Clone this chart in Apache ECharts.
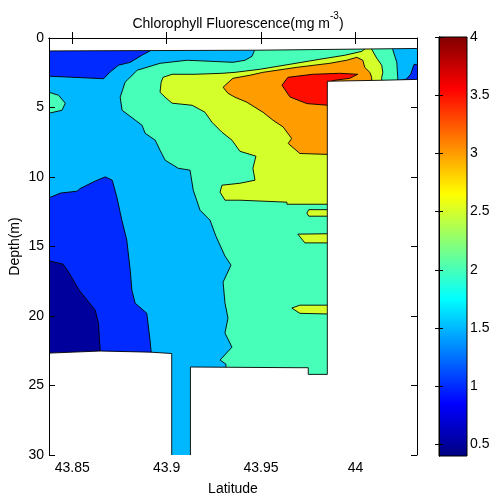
<!DOCTYPE html>
<html>
<head>
<meta charset="utf-8">
<script src="https://cdn.jsdelivr.net/npm/echarts@6/dist/echarts.min.js"></script>
<style>
  html, body { margin: 0; padding: 0; background: #fff; }
  #main { width: 489px; height: 496px; }
</style>
</head>
<body>
<div id="main"></div>
<script>
// axes
const latRange = [43.8377, 44.0326];
const latTicks = [43.85, 43.9, 43.95, 44];
const depthRange = [0, 30];
const colorRange = [0.4, 4];
const colorTicks = [0.5, 1, 1.5, 2, 2.5, 3, 3.5, 4];

// contour regions, [latitude, depth] outlines of the area where value >= level
const section = [[43.835, -0.5], [44.035, -0.5], [44.035, 30.5], [43.835, 30.5]];
const above1 = [
  [43.835, -0.5], [44.035, -0.5], [44.035, 30.5], [43.8648, 30.5], [43.8648, 22.45],
  [43.8639, 20.53], [43.8622, 19.58], [43.8537, 18.14], [43.848, 16.82], [43.8452, 16.27],
  [43.8377, 16.03], [43.835, 16.03]
];
const above15 = [
  [43.8912, -0.5], [43.8912, 0.93], [43.8869, 1.24], [43.8807, 1.75], [43.8745, 1.96],
  [43.8701, 2.44], [43.8666, 2.93], [43.8463, 2.8], [43.8377, 2.75], [43.835, 2.75],
  [43.835, 11.5], [43.8377, 11.5], [43.8437, 11.16], [43.8525, 11.02], [43.8542, 10.83],
  [43.8613, 10.35], [43.8675, 9.99], [43.8712, 10.23], [43.8736, 11.43], [43.8763, 13.11],
  [43.8789, 14.54], [43.8807, 16.7], [43.8816, 18.14], [43.8833, 19.07], [43.8895, 19.81],
  [43.8912, 21.73], [43.8918, 22.6], [43.8918, 30.5], [44.035, 30.5], [44.035, 3.47],
  [44.0224, 3.47], [44.0224, 3.1], [44.027, 2.95], [44.0293, 2.6], [44.031, 1.9],
  [44.035, 1.9], [44.035, -0.5]
];
const above2 = [
  [43.9468, -0.5], [43.9468, 0.81], [43.9452, 1.32], [43.9415, 1.6], [43.9351, 1.75],
  [43.924, 1.68], [43.9108, 1.6], [43.8965, 1.82], [43.8844, 2.32], [43.878, 3.18],
  [43.8754, 4.26], [43.8764, 5.2], [43.887, 6.28], [43.8886, 6.85], [43.8939, 7.35],
  [43.8965, 8.07], [43.8992, 8.79], [43.9061, 9.37], [43.9124, 9.51], [43.9141, 10.95],
  [43.9177, 12.39], [43.923, 13.11], [43.9261, 14.26], [43.9309, 15.69], [43.9341, 16.34],
  [43.9299, 17.56], [43.9309, 19.07], [43.9325, 20.15], [43.9309, 21.23], [43.9346, 22.24],
  [43.9283, 23.17], [43.9314, 23.46], [43.9314, 30.5], [44.035, 30.5], [44.035, 3.47],
  [44.0224, 3.47], [44.0224, 2.83], [44.0219, 1.75], [44.0197, 0.81], [44.0197, -0.5]
];
const above2West = [
  [43.835, 3.9], [43.8377, 3.9], [43.8428, 4.12], [43.8463, 4.69], [43.8446, 5.2],
  [43.8377, 5.41], [43.835, 5.41]
];
const above25 = [
  [43.8981, 2.83], [43.9029, 2.61], [43.915, 2.61], [43.9293, 2.54], [43.9362, 2.47],
  [43.9494, 2.25], [43.9653, 1.89], [43.9811, 1.53], [43.9944, 1.24], [44.0034, 0.96],
  [44.0076, 0.5], [44.0086, 0.81], [44.0113, 1.46], [44.0139, 1.96], [44.0145, 2.47],
  [44.0139, 2.83], [44.0139, 3.47], [43.9864, 3.47], [43.9864, 11.96], [43.9637, 11.96],
  [43.9637, 11.81], [43.9388, 11.67], [43.9309, 11.67], [43.9283, 11.09], [43.9293, 10.59],
  [43.9388, 10.45], [43.9468, 10.23], [43.9457, 9.37], [43.9473, 8.5], [43.9388, 8.15],
  [43.9346, 7.35], [43.9293, 6.78], [43.924, 6.06], [43.9203, 5.34], [43.9135, 4.84],
  [43.9029, 4.69], [43.8992, 4.26], [43.8965, 3.9], [43.8971, 3.18]
];
const streakA = [[43.9743, 12.6], [43.9753, 12.35], [43.9875, 12.35], [43.9875, 12.82], [43.9753, 12.82]];
const streakB = [[43.9695, 14.11], [43.9875, 14.08], [43.9875, 14.74], [43.9732, 14.74]];
const streakC = [[43.9663, 19.43], [43.9706, 19.22], [43.9875, 19.22], [43.9875, 19.86], [43.9706, 19.81]];
const above3 = [
  [43.9299, 3.54], [43.9351, 2.9], [43.9441, 2.68], [43.951, 2.47], [43.969, 2.11],
  [43.9864, 1.82], [43.9954, 1.6], [44.0007, 1.39], [44.0039, 1.6], [44.0049, 2.11],
  [44.0076, 2.47], [44.0086, 2.83], [44.0086, 3.47], [43.9864, 3.47], [43.9864, 8.38],
  [43.9706, 8.31], [43.9644, 7.59], [43.9662, 7.23], [43.9617, 6.4], [43.9564, 5.92],
  [43.951, 5.34], [43.9425, 4.62], [43.9362, 4.26], [43.9325, 3.98]
];
const above35 = [
  [43.9611, 3.4], [43.9642, 2.83], [43.9774, 2.61], [43.9917, 2.54], [44.0012, 2.61],
  [43.997, 2.9], [43.9891, 3.04], [43.9875, 3.11], [43.9875, 5.2], [43.9854, 4.84],
  [43.9743, 4.72], [43.9653, 4.24]
];
// no data
const gapTop = [[43.835, -0.5], [44.035, -0.5], [44.035, 0.75], [44.0007, 0.8], [43.9468, 0.88], [43.835, 0.93]];
const gapWest = [
  [43.835, 22.67], [43.8377, 22.67], [43.8648, 22.52], [43.8912, 22.6], [43.9027, 22.7],
  [43.9027, 30.5], [43.835, 30.5]
];
const gapEast = [
  [43.9126, 30.5], [43.9126, 23.67], [43.969, 23.72], [43.975, 23.72], [43.975, 24.2],
  [43.9851, 24.2], [43.9851, 3.11], [44.0139, 3.04], [44.035, 2.97], [44.035, 30.5]
];

const shapes = [
  { v: 0.5, pts: section },
  { v: 1, pts: above1 },
  { v: 1.5, pts: above15 },
  { v: 2, pts: above2 },
  { v: 2, pts: above2West },
  { v: 2.5, pts: above25 },
  { v: 2.5, pts: streakA },
  { v: 2.5, pts: streakB },
  { v: 2.5, pts: streakC },
  { v: 3, pts: above3 },
  { v: 3.5, pts: above35 },
  { v: null, pts: gapTop },
  { v: null, pts: gapWest },
  { v: null, pts: gapEast }
];

// matlab jet
function jet(t) {
  const c = (x) => Math.round(255 * Math.max(0, Math.min(1, x)));
  return 'rgb(' + c(Math.min(4 * t - 1.5, -4 * t + 4.5)) + ',' +
    c(Math.min(4 * t - 0.5, -4 * t + 3.5)) + ',' +
    c(Math.min(4 * t + 0.5, -4 * t + 2.5)) + ')';
}
const levelColor = (v) => jet((v - colorRange[0]) / (colorRange[1] - colorRange[0]));

const FONT = '"Liberation Sans Narrow", "Liberation Sans", Arial, sans-serif';
const txt = { color: '#000', fontFamily: FONT, fontSize: 14 };
const line = { show: true, lineStyle: { color: '#000', width: 1 } };

const chart = echarts.init(document.getElementById('main'));
chart.setOption({
  backgroundColor: '#fff',
  animation: false,
  title: {
    text: '{a|Chlorophyll Fluorescence(mg m}{s|-3}{a|)}',
    left: 233,
    textAlign: 'center',
    top: 6,
    textStyle: {
      rich: {
        a: { fontFamily: FONT, fontSize: 14, fontWeight: 'normal', color: '#000', lineHeight: 20, verticalAlign: 'bottom' },
        s: { fontFamily: FONT, fontSize: 10, fontWeight: 'normal', color: '#000', lineHeight: 11, verticalAlign: 'top' }
      }
    }
  },
  grid: [
    { left: 49, top: 38, width: 368, height: 417, outerBoundsMode: 'none' },
    { left: 439, top: 37, width: 28, height: 419, outerBoundsMode: 'none' }
  ],
  xAxis: [
    {
      gridIndex: 0, type: 'value', position: 'bottom', min: latRange[0], max: latRange[1], z: 10,
      name: 'Latitude', nameLocation: 'middle', nameGap: 27, nameTextStyle: { ...txt },
      axisLine: line, splitLine: { show: false },
      axisTick: { inside: true, length: 6, lineStyle: { color: '#000' }, customValues: latTicks },
      axisLabel: { ...txt, margin: 6, customValues: latTicks, formatter: (v) => String(v) }
    },
    {
      gridIndex: 0, type: 'value', position: 'top', min: latRange[0], max: latRange[1], z: 10,
      axisLine: line, splitLine: { show: false },
      axisTick: { inside: true, length: 6, lineStyle: { color: '#000' }, customValues: latTicks },
      axisLabel: { show: false }
    },
    { gridIndex: 1, type: 'value', min: 0, max: 1, show: false }
  ],
  yAxis: [
    {
      gridIndex: 0, type: 'value', position: 'left', inverse: true, min: depthRange[0], max: depthRange[1], interval: 5, z: 10,
      name: 'Depth(m)', nameLocation: 'middle', nameGap: 27, nameRotate: 90, nameMoveOverlap: false,
      nameTextStyle: { ...txt },
      axisLine: line, splitLine: { show: false },
      axisTick: { inside: true, length: 6, lineStyle: { color: '#000' } },
      axisLabel: { ...txt, margin: 5 }
    },
    {
      gridIndex: 0, type: 'value', position: 'right', inverse: true, min: depthRange[0], max: depthRange[1], interval: 5, z: 10,
      axisLine: line, splitLine: { show: false },
      axisTick: { inside: true, length: 6, lineStyle: { color: '#000' } },
      axisLabel: { show: false }
    },
    {
      gridIndex: 1, type: 'value', position: 'right', min: colorRange[0], max: colorRange[1], z: 10,
      axisLine: line, splitLine: { show: false },
      axisTick: { inside: true, length: 4, lineStyle: { color: '#000' }, customValues: colorTicks },
      axisLabel: { ...txt, margin: 3, customValues: colorTicks, formatter: (v) => String(v) }
    },
    {
      gridIndex: 1, type: 'value', position: 'left', min: colorRange[0], max: colorRange[1], z: 10,
      axisLine: line, splitLine: { show: false },
      axisTick: { inside: true, length: 4, lineStyle: { color: '#000' }, customValues: colorTicks },
      axisLabel: { show: false }
    }
  ],
  series: [
    {
      type: 'custom',
      xAxisIndex: 0,
      yAxisIndex: 0,
      clip: true,
      silent: true,
      data: shapes.map((s) => s.pts[0]),
      renderItem: (params, api) => {
        const s = shapes[params.dataIndex];
        return {
          type: 'polygon',
          shape: { points: s.pts.map((p) => api.coord(p)) },
          style: {
            fill: s.v == null ? '#fff' : levelColor(s.v),
            stroke: '#000',
            lineWidth: 0.9
          }
        };
      }
    },
    {
      // colour bar
      type: 'custom',
      xAxisIndex: 2,
      yAxisIndex: 2,
      silent: true,
      data: [[0, colorRange[0]]],
      renderItem: (params, api) => {
        const p0 = api.coord([0, colorRange[1]]);
        const p1 = api.coord([1, colorRange[0]]);
        return {
          type: 'rect',
          shape: { x: p0[0], y: p0[1], width: p1[0] - p0[0], height: p1[1] - p0[1] },
          style: {
            fill: new echarts.graphic.LinearGradient(0, 1, 0, 0,
              [0, 0.125, 0.375, 0.625, 0.875, 1].map((t) => ({ offset: t, color: jet(t) }))),
            stroke: '#000',
            lineWidth: 1
          }
        };
      }
    }
  ]
});
</script>
</body>
</html>
